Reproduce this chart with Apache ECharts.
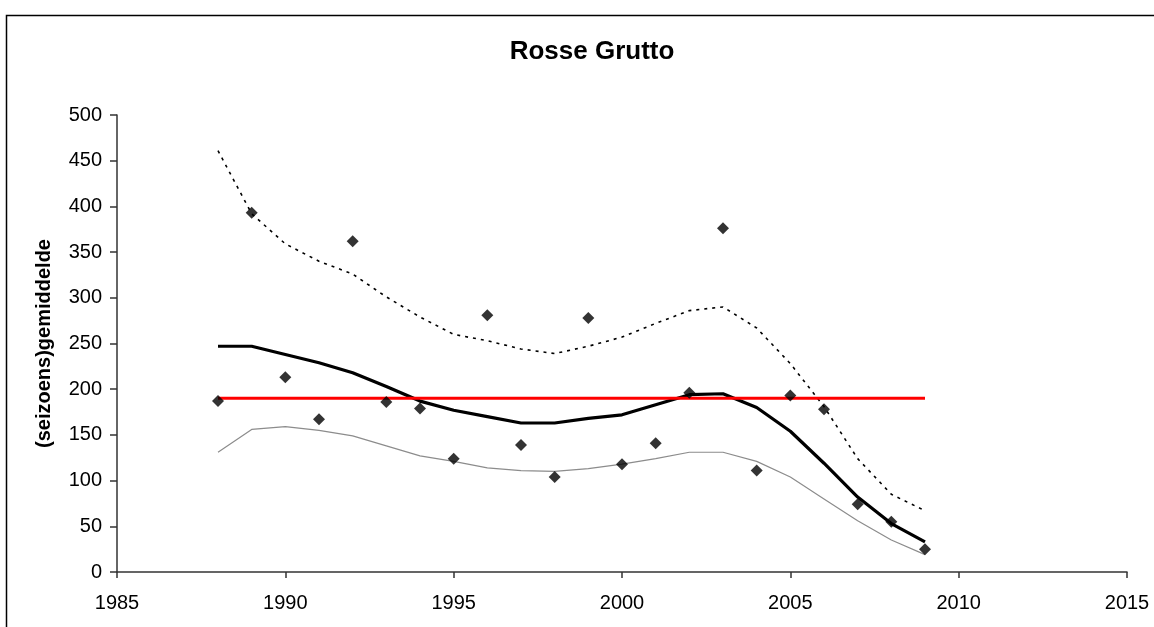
<!DOCTYPE html>
<html>
<head>
<meta charset="utf-8">
<script src="https://cdn.jsdelivr.net/npm/echarts@6/dist/echarts.min.js"></script>
<style>html,body{margin:0;padding:0;background:#fff;}#c{width:1154px;height:627px;}</style>
</head>
<body>
<div id="c"></div>
<script>
const years = [1988,1989,1990,1991,1992,1993,1994,1995,1996,1997,1998,1999,2000,2001,2002,2003,2004,2005,2006,2007,2008,2009];
const observed = [187,393,213,167,362,186,179,124,281,139,104,278,118,141,196,376,111,193,178,74,55,25];
const trend = [247,247,238,229,218,203,187,177,170,163,163,168,172,183,194,195,180,154,119,82,53,33];
const lower = [131,156,159,155,149,138,127,121,114,111,110,113,118,124,131,131,121,104,80,56,35,19];
const upper = [461,392,359,340,326,301,279,260,253,244,239,247,257,272,286,290,267,228,181,124,85,67];
const meanValue = 190;
const title = 'Rosse Grutto';
const yTitle = '(seizoens)gemiddelde';

const pairs = arr => years.map((y, i) => [y, arr[i]]);
const font = 'Liberation Sans, Arial, sans-serif';

const chart = echarts.init(document.getElementById('c'), null, {renderer: 'canvas'});
chart.setOption({
  animation: false,
  backgroundColor: '#fff',
  graphic: [{
    type: 'rect', left: 4, top: 13, z: -1,
    shape: {width: 1200, height: 700},
    style: {fill: 'none', stroke: '#000', lineWidth: 1.5}
  }],
  title: {
    text: title, left: 587, top: 34, textAlign: 'center',
    textStyle: {fontFamily: font, fontSize: 26, fontWeight: 'bold', color: '#000'}
  },
  grid: {left: 117, right: 27, top: 115, bottom: 55},
  xAxis: {
    type: 'value', min: 1985, max: 2015, interval: 5,
    axisLine: {lineStyle: {color: '#333', width: 1.5}},
    axisTick: {inside: false, length: 6, lineStyle: {color: '#333', width: 1.5}},
    axisLabel: {margin: 21, fontFamily: font, fontSize: 20, color: '#000', formatter: v => String(v)},
    splitLine: {show: false}
  },
  yAxis: {
    type: 'value', min: 0, max: 500, interval: 50,
    name: yTitle, nameLocation: 'middle', nameGap: 63,
    nameTextStyle: {fontFamily: font, fontSize: 20, fontWeight: 'bold', color: '#000'},
    axisLine: {show: true, lineStyle: {color: '#333', width: 1.5}},
    axisTick: {show: true, length: 7, lineStyle: {color: '#333', width: 1.5}},
    axisLabel: {margin: 15, fontFamily: font, fontSize: 20, color: '#000'},
    splitLine: {show: false}
  },
  series: [
    {
      type: 'line', data: pairs(lower), showSymbol: false, symbol: 'none',
      lineStyle: {color: '#8c8c8c', width: 1.2}
    },
    {
      type: 'line', data: pairs(upper), showSymbol: false, symbol: 'none',
      lineStyle: {color: '#000', width: 1.6, type: [3, 5]}
    },
    {
      type: 'line', data: pairs(trend), showSymbol: false, symbol: 'none',
      lineStyle: {color: '#000', width: 3.2}
    },
    {
      type: 'line', data: [[years[0], meanValue], [years[years.length - 1], meanValue]],
      showSymbol: false, symbol: 'none',
      lineStyle: {color: '#ff0000', width: 3}
    },
    {
      type: 'scatter', data: pairs(observed), symbol: 'diamond', symbolSize: 12,
      itemStyle: {color: '#000'}, z: 5
    }
  ]
});
</script>
</body>
</html>
